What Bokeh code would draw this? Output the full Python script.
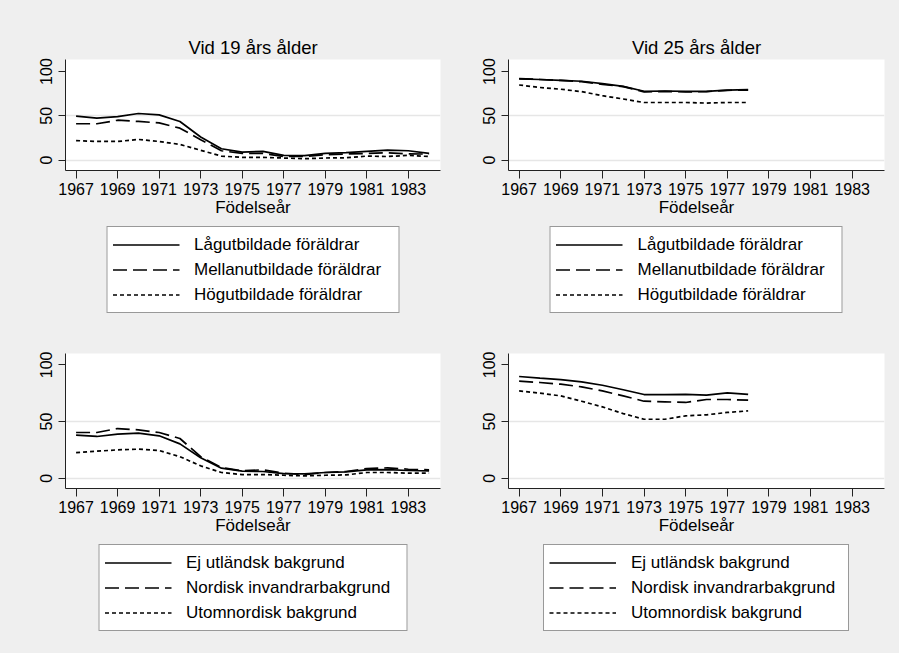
from bokeh.plotting import figure
from bokeh.layouts import column, row
from bokeh.models import Range1d, FixedTicker, Legend, LegendItem
from bokeh.embed import file_html
from bokeh.resources import INLINE

# ---------------- data ----------------
years19 = list(range(1967, 1985))
years25 = list(range(1967, 1979))

edu_labels = ["Lågutbildade föräldrar", "Mellanutbildade föräldrar", "Högutbildade föräldrar"]
bg_labels = ["Ej utländsk bakgrund", "Nordisk invandrarbakgrund", "Utomnordisk bakgrund"]

edu19_low = [49.6, 47.4, 49.0, 52.6, 51.0, 43.6, 26.0, 12.8, 9.0, 9.8, 5.3, 5.0, 7.5, 8.3, 9.8, 11.3, 10.5, 7.5]
edu19_mid = [41.0, 41.0, 45.0, 43.6, 42.0, 36.0, 23.0, 10.5, 7.5, 7.5, 4.0, 4.0, 6.0, 6.8, 7.5, 8.3, 7.0, 6.8]
edu19_high = [22.0, 21.0, 21.0, 23.3, 21.0, 17.7, 11.0, 4.5, 3.0, 3.0, 2.3, 1.5, 2.3, 2.6, 4.5, 4.0, 5.3, 4.0]

edu25_low = [91.7, 91.0, 90.0, 89.0, 86.4, 83.3, 77.7, 78.0, 77.7, 77.7, 79.0, 79.5]
edu25_mid = [92.0, 91.0, 90.0, 88.5, 85.5, 83.0, 77.0, 77.5, 77.0, 77.3, 78.8, 79.0]
edu25_high = [84.8, 82.0, 80.0, 77.3, 72.7, 69.0, 65.0, 65.0, 65.0, 64.4, 65.0, 65.0]

bg19_swe = [38.0, 36.8, 38.8, 39.7, 37.4, 30.3, 18.0, 8.8, 6.2, 5.9, 4.1, 3.8, 5.0, 5.6, 7.4, 7.6, 6.8, 6.5]
bg19_nord = [40.3, 40.3, 43.8, 42.6, 40.3, 35.0, 19.0, 9.4, 6.5, 7.4, 4.4, 3.2, 5.0, 5.9, 8.5, 9.1, 7.9, 7.4]
bg19_other = [22.6, 23.8, 25.0, 25.6, 24.4, 19.0, 10.9, 5.0, 3.2, 3.2, 2.6, 2.0, 2.6, 2.9, 5.0, 5.0, 4.4, 4.4]

bg25_swe = [89.7, 88.2, 87.0, 85.0, 82.0, 78.0, 73.8, 73.8, 74.0, 73.2, 75.3, 74.0]
bg25_nord = [85.6, 84.4, 82.9, 80.6, 77.0, 72.6, 67.9, 67.4, 66.8, 69.4, 69.4, 68.8]
bg25_other = [77.0, 75.0, 72.6, 67.9, 62.9, 57.0, 52.0, 52.0, 55.0, 55.9, 58.0, 59.4]

x_ticks = list(range(1967, 1985, 2))
y_ticks = [0, 50, 100]
grid_ticks = [0, 50]
x_label = "Födelseår"
titles = ["Vid 19 års ålder", "Vid 25 års ålder"]

# ---------------- style ----------------
BG = "#efefef"
FONT = "Liberation Sans"
DASHES = ["solid", "14 6", "4 3"]
X_RANGE = (1966.49, 1984.55)
LW = 1.7


def plot_panel(title, years, series, width, height, bl, br, bt, bb, yr):
    p = figure(width=width, height=height, output_backend="svg", toolbar_location=None,
               x_range=Range1d(*X_RANGE), y_range=Range1d(*yr),
               min_border_left=bl, min_border_right=br, min_border_top=bt, min_border_bottom=bb)
    p.background_fill_color = "white"
    p.border_fill_color = BG
    p.outline_line_color = None
    if title:
        p.title.text = title
        p.title.align = "center"
        p.title.text_font = FONT
        p.title.text_font_size = "18.5px"
        p.title.text_font_style = "normal"
        p.title.text_color = "black"
        p.title.standoff = 4

    for vals, dash in zip(series, DASHES):
        p.line(years, vals, line_color="black", line_width=LW, line_dash=dash)

    p.xaxis.ticker = FixedTicker(ticks=x_ticks)
    p.yaxis.ticker = FixedTicker(ticks=y_ticks)
    p.xgrid.visible = False
    p.ygrid.ticker = FixedTicker(ticks=grid_ticks)
    p.ygrid.grid_line_color = "#e6e6e6"
    p.ygrid.grid_line_width = 1.5
    for ax in (p.xaxis, p.yaxis):
        ax.axis_line_color = "#222222"
        ax.major_tick_line_color = "#222222"
        ax.minor_tick_line_color = None
        ax.major_tick_in = 0
        ax.major_label_text_font = FONT
        ax.major_label_text_font_size = "16px"
        ax.major_label_text_color = "black"
    p.xaxis.major_tick_out = 8
    p.yaxis.major_tick_out = 7
    p.xaxis.major_label_standoff = 4
    p.yaxis.major_label_standoff = 6
    p.yaxis.major_label_orientation = "vertical"
    p.xaxis.axis_label = x_label
    p.xaxis.axis_label_text_font = FONT
    p.xaxis.axis_label_text_font_size = "17px"
    p.xaxis.axis_label_text_font_style = "normal"
    p.xaxis.axis_label_text_color = "black"
    p.xaxis.axis_label_standoff = 0
    return p


def legend_panel(years, series, labels, width, height, bl, br, yr, label_width):
    p = figure(width=width, height=height, output_backend="svg", toolbar_location=None,
               x_range=Range1d(*X_RANGE), y_range=Range1d(*yr),
               x_axis_type=None, y_axis_type=None,
               min_border_left=bl, min_border_right=br, min_border_top=0, min_border_bottom=0)
    p.background_fill_color = BG
    p.border_fill_color = BG
    p.outline_line_color = None
    p.grid.visible = False
    rends = []
    for vals, dash in zip(series, DASHES):
        r = p.line(years, vals, line_color="black", line_width=LW, line_dash=dash)
        r.visible = False
        rends.append(r)
    legend = Legend(items=[LegendItem(label=l, renderers=[r]) for l, r in zip(labels, rends)],
                    location="top_center", orientation="vertical", padding=5, spacing=0, margin=0,
                    label_height=25, glyph_height=25, glyph_width=67, label_standoff=15,
                    label_width=label_width, label_text_font=FONT, label_text_font_size="17px",
                    label_text_color="black", border_line_color="#333333", border_line_width=1,
                    background_fill_color="white", background_fill_alpha=1.0)
    p.add_layout(legend)
    return p


# top row: plot 8..234, legend 234..330 ; bottom row: plot 330..552, legend 552..661
p1 = plot_panel(titles[0], years19, [edu19_low, edu19_mid, edu19_high],
                449, 226, 65, 9, 59, 56, (-11.8, 113.6))
l1 = legend_panel(years19, [edu19_low, edu19_mid, edu19_high], edu_labels,
                  449, 96, 65, 9, (-11.8, 113.6), 199)
p2 = plot_panel(titles[1], years25, [edu25_low, edu25_mid, edu25_high],
                450, 226, 59, 15, 59, 56, (-11.8, 113.6))
l2 = legend_panel(years25, [edu25_low, edu25_mid, edu25_high], edu_labels,
                  450, 96, 59, 15, (-11.8, 113.6), 199)
p3 = plot_panel(None, years19, [bg19_swe, bg19_nord, bg19_other],
                449, 222, 65, 9, 31, 56, (-9.1, 110.0))
l3 = legend_panel(years19, [bg19_swe, bg19_nord, bg19_other], bg_labels,
                  449, 109, 65, 9, (-9.1, 110.0), 215)
p4 = plot_panel(None, years25, [bg25_swe, bg25_nord, bg25_other],
                450, 222, 59, 15, 31, 56, (-9.1, 110.0))
l4 = legend_panel(years25, [bg25_swe, bg25_nord, bg25_other], bg_labels,
                  450, 109, 59, 15, (-9.1, 110.0), 212)

layout = column(
    row(column(p1, l1, spacing=0), column(p2, l2, spacing=0), spacing=0),
    row(column(p3, l3, spacing=0), column(p4, l4, spacing=0), spacing=0),
    spacing=0)
layout.styles = {"background-color": BG}

open("out.html", "w").write(file_html(layout, INLINE))
